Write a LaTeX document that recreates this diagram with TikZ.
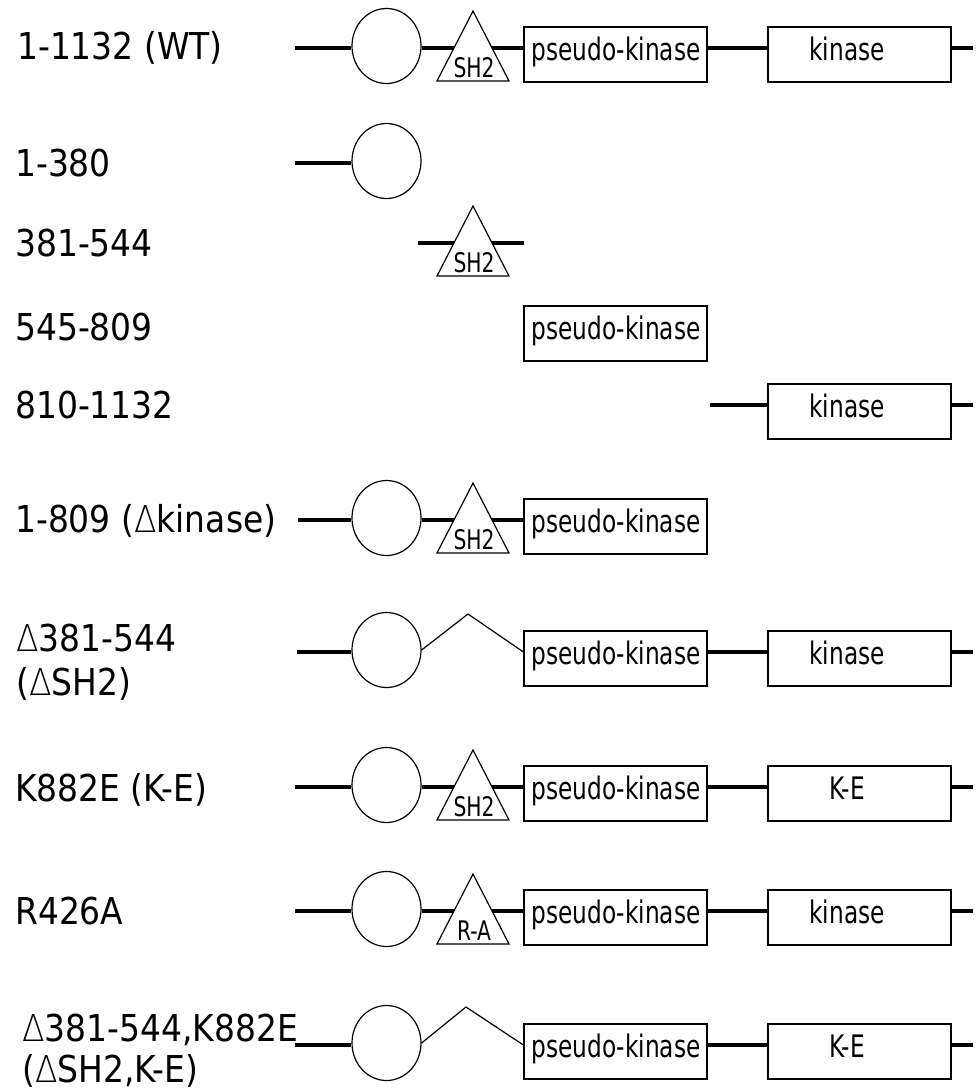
\documentclass[tikz,border=0pt]{standalone}
\usepackage{fontspec}
\usetikzlibrary{shapes.geometric}
\newfontfamily\lblfont[FakeStretch=0.89]{DejaVu Sans}
\newfontfamily\boxfont[FakeStretch=0.75]{DejaVu Sans}
\IfFontExistsTF{DejaVu Sans ExtraLight}
  {\newfontfamily\dltfont[FakeStretch=0.89]{DejaVu Sans ExtraLight}}
  {\newfontfamily\dltfont[FakeStretch=0.89]{DejaVu Sans}}
\newcommand\dlt{{\dltfont Δ}}
\tikzset{
  thk/.style={line width=4.6pt},
  thn/.style={line width=1.2pt},
  dom/.style={draw, thn, ellipse, minimum width=69pt, minimum height=75pt, inner sep=0pt},
  pbox/.style={draw, thn, rectangle, minimum width=183pt, minimum height=55pt, inner sep=0pt},
  lbl/.style={anchor=base west, inner sep=0pt, font=\lblfont\fontsize{37}{44}\selectfont},
  btxt/.style={anchor=base, inner sep=0pt, font=\boxfont\fontsize{31}{36}\selectfont},
  ttxt/.style={anchor=base, inner sep=0pt, font=\boxfont\fontsize{27}{32}\selectfont},
}
% ellipse domain: name, row y
\newcommand\ellD[2]{\node[dom] (#1) at (386.5,#2-2) {};}
% triangle domain: name, row y, text
\newcommand\triD[3]{%
  \draw[thn] (473,#2-37) -- (437,#2+33) -- (509,#2+33) -- cycle;
  \node[ttxt] (#1) at (474,#2+29) {#3};
  \coordinate (#1l) at (454,#2);
  \coordinate (#1r) at (492,#2);}
% pseudo-kinase box: name, row y
\newcommand\pkD[2]{%
  \node[pbox] (#1) at (615.5,#2+6.5) {};
  \node[btxt] (#1t) at (616,#2+12) {pseudo-kinase};}
% kinase box: name, row y, text
\newcommand\kD[3]{%
  \node[pbox] (#1) at (859.5,#2+6.5) {};
  \node[btxt] (#1t) at (847,#2+12) {#3};}
\begin{document}
\begin{tikzpicture}[x=1pt,y=-1pt]
\useasboundingbox (0,0) rectangle (977,1090);

% ---------- row 1: WT ----------
\node[lbl] (l1) at (17,59) {1-1132 (WT)};
\coordinate (r1) at (0,48);
\coordinate (s1) at (295,48);
\coordinate (f1) at (973,48);
\ellD{e1}{48}
\triD{t1}{48}{SH2}
\pkD{p1}{48}
\kD{k1}{48}{kinase}
\draw[thk] (s1) -- (s1 -| e1.west);
\draw[thk] (r1 -| e1.east) -- (t1l);
\draw[thk] (t1r) -- (r1 -| p1.west);
\draw[thk] (r1 -| p1.east) -- (r1 -| k1.west);
\draw[thk] (r1 -| k1.east) -- (f1);

% ---------- row 2: 1-380 ----------
\node[lbl] (l2) at (15,176.5) {1-380};
\coordinate (s2) at (295,163);
\ellD{e2}{163}
\draw[thk] (s2) -- (s2 -| e2.west);

% ---------- row 3: 381-544 ----------
\node[lbl] (l3) at (15,256.5) {381-544};
\coordinate (s3) at (418,243);
\coordinate (f3) at (524,243);
\triD{t3}{243}{SH2}
\draw[thk] (s3) -- (t3l);
\draw[thk] (t3r) -- (f3);

% ---------- row 4: 545-809 ----------
\node[lbl] (l4) at (15,340.5) {545-809};
\pkD{p4}{327}

% ---------- row 5: 810-1132 ----------
\node[lbl] (l5) at (15,418.5) {810-1132};
\coordinate (r5) at (0,405);
\coordinate (s5) at (710,405);
\coordinate (f5) at (973,405);
\kD{k5}{405}{kinase}
\draw[thk] (s5) -- (r5 -| k5.west);
\draw[thk] (r5 -| k5.east) -- (f5);

% ---------- row 6: 1-809 (Δkinase) ----------
\node[lbl] (l6) at (15,532) {1-809 (\dlt kinase)};
\coordinate (r6) at (0,520);
\coordinate (s6) at (298,520);
\ellD{e6}{520}
\triD{t6}{520}{SH2}
\pkD{p6}{520}
\draw[thk] (s6) -- (s6 -| e6.west);
\draw[thk] (r6 -| e6.east) -- (t6l);
\draw[thk] (t6r) -- (r6 -| p6.west);

% ---------- row 7: Δ381-544 (ΔSH2) ----------
\node[lbl] (l7a) at (16,651) {\dlt 381-544};
\node[lbl] (l7b) at (16,695) {(\dlt SH2)};
\coordinate (r7) at (0,652);
\coordinate (s7) at (297,652);
\coordinate (f7) at (973,652);
\coordinate (z7) at (468,614);
\ellD{e7}{652}
\pkD{p7}{652}
\kD{k7}{652}{kinase}
\draw[thk] (s7) -- (s7 -| e7.west);
\draw[thn] (e7.east) -- (z7) -- (r7 -| p7.west);
\draw[thk] (r7 -| p7.east) -- (r7 -| k7.west);
\draw[thk] (r7 -| k7.east) -- (f7);

% ---------- row 8: K882E ----------
\node[lbl] (l8) at (15,801) {K882E (K-E)};
\coordinate (r8) at (0,787);
\coordinate (s8) at (295,787);
\coordinate (f8) at (973,787);
\ellD{e8}{787}
\triD{t8}{787}{SH2}
\pkD{p8}{787}
\kD{k8}{787}{K-E}
\draw[thk] (s8) -- (s8 -| e8.west);
\draw[thk] (r8 -| e8.east) -- (t8l);
\draw[thk] (t8r) -- (r8 -| p8.west);
\draw[thk] (r8 -| p8.east) -- (r8 -| k8.west);
\draw[thk] (r8 -| k8.east) -- (f8);

% ---------- row 9: R426A ----------
\node[lbl] (l9) at (15,924) {R426A};
\coordinate (r9) at (0,911);
\coordinate (s9) at (295,911);
\coordinate (f9) at (973,911);
\ellD{e9}{911}
\triD{t9}{911}{R-A}
\pkD{p9}{911}
\kD{k9}{911}{kinase}
\draw[thk] (s9) -- (s9 -| e9.west);
\draw[thk] (r9 -| e9.east) -- (t9l);
\draw[thk] (t9r) -- (r9 -| p9.west);
\draw[thk] (r9 -| p9.east) -- (r9 -| k9.west);
\draw[thk] (r9 -| k9.east) -- (f9);

% ---------- row 10: Δ381-544,K882E ----------
\node[lbl] (l10a) at (22,1041) {\dlt 381-544,K882E};
\node[lbl] (l10b) at (22,1082) {(\dlt SH2,K-E)};
\coordinate (r10) at (0,1045);
\coordinate (s10) at (295,1045);
\coordinate (f10) at (973,1045);
\coordinate (z10) at (466,1007);
\ellD{e10}{1045}
\pkD{p10}{1045}
\kD{k10}{1045}{K-E}
\draw[thk] (s10) -- (s10 -| e10.west);
\draw[thn] (e10.east) -- (z10) -- (r10 -| p10.west);
\draw[thk] (r10 -| p10.east) -- (r10 -| k10.west);
\draw[thk] (r10 -| k10.east) -- (f10);
\end{tikzpicture}
\end{document}
